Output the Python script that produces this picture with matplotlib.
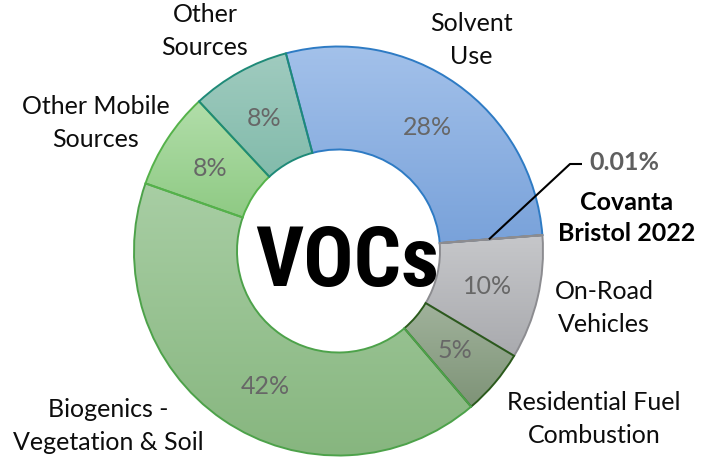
import numpy as np
import matplotlib
matplotlib.use("Agg")
import matplotlib.pyplot as plt
from matplotlib import font_manager as fm
from matplotlib.colors import LinearSegmentedColormap

# ---- data ----
categories = ["Solvent\nUse", "Covanta\nBristol 2022", "On-Road\nVehicles",
              "Residential Fuel\nCombustion", "Biogenics -\nVegetation & Soil",
              "Other Mobile\nSources", "Other\nSources"]
values = [27.9, 0.01, 9.8, 5.2, 41.6, 7.7, 7.8]
pct_labels = ["28%", "0.01%", "10%", "5%", "42%", "8%", "8%"]

top_colors = ["#A3C1EA", "#C9CACD", "#C6C7CA", "#A0B29B", "#A8CEA4", "#B2DEAA", "#A0CBBF"]
bot_colors = ["#79A2DA", "#A9AAAE", "#A9AAAE", "#7E9377", "#87B67F", "#8FCA84", "#82BBAB"]
edge_colors = ["#2E7BC4", "#8C8C90", "#8C8C90", "#2B5A1C", "#4DA24A", "#55B24A", "#1F8A78"]

plt.rcParams['font.family'] = ['Lato', 'DejaVu Sans']


def narrow_font():
    names = {f.name for f in fm.fontManager.ttflist}
    for n in ["Liberation Sans Narrow", "Roboto Condensed", "Open Sans Condensed",
              "DejaVu Sans Condensed", "Noto Sans Condensed"]:
        if n in names:
            return dict(family=[n, "DejaVu Sans"])
    for f in fm.fontManager.ttflist:
        if "condensed" in str(f.stretch).lower() or "narrow" in f.name.lower():
            return dict(family=[f.name, "DejaVu Sans"], fontstretch=f.stretch)
    return dict(family=["DejaVu Sans"], fontstretch="condensed")


W, H = 709, 460
fig = plt.figure(figsize=(W / 100, H / 100), dpi=100)
ax = fig.add_axes([0, 0, 1, 1])

cx, cy = 338.5, H - 252
R, ring = 204.5, 103
start = 104.9

wedges, _ = ax.pie(values, radius=R, center=(cx, cy), startangle=start,
                   counterclock=False,
                   wedgeprops=dict(width=ring, linewidth=1.4))

for i, w in enumerate(wedges):
    w.set_edgecolor(edge_colors[i])
    w.set_facecolor("none")
    w.set_zorder(3)
    ext = w.get_path().get_extents()
    cmap = LinearSegmentedColormap.from_list("g%d" % i, [bot_colors[i], top_colors[i]])
    grad = np.linspace(0, 1, 256).reshape(-1, 1)
    im = ax.imshow(grad, cmap=cmap, origin="lower", aspect="auto",
                   extent=(ext.x0, ext.x1, ext.y0, ext.y1), zorder=2,
                   interpolation="bilinear")
    im.set_clip_path(w)

# percent labels at mid-angles
pct_color = "#676767"
rmid = R - ring / 2
for i, w in enumerate(wedges):
    if i == 1:
        continue
    ang = np.deg2rad((w.theta1 + w.theta2) / 2)
    r = rmid
    if i == 4:
        ang += np.deg2rad(6)
    ax.text(cx + r * np.cos(ang), cy + r * np.sin(ang), pct_labels[i],
            ha="center", va="center", fontsize=18, color=pct_color, zorder=5)

# category labels
lab_color = "#0D0D0D"
lab_pos = {0: (471, 40), 2: (604, 308), 3: (594, 419), 4: (108, 426),
           5: (96, 123), 6: (205, 31)}
for i, (x, y) in lab_pos.items():
    ax.text(x, H - y, categories[i], ha="center", va="center", fontsize=18,
            color=lab_color, linespacing=1.5, zorder=5)

# Covanta callout
w = wedges[1]
ang = np.deg2rad(w.theta1)
r0 = R - ring * 0.52
x0, y0 = cx + r0 * np.cos(ang), cy + r0 * np.sin(ang)
ax.plot([x0, 570, 582], [y0, H - 165, H - 165], color="black", lw=1.5,
        zorder=6, solid_capstyle="butt")
ax.text(624, H - 163, pct_labels[1], ha="center", va="center", fontsize=18,
        fontweight="bold", color="#5F5F5F", zorder=6)
ax.text(627, H - 218, categories[1], ha="center", va="center", fontsize=18,
        fontweight="bold", color="black", linespacing=1.45, zorder=6)

# center title
ax.text(347, H - 263.5, "VOCs", ha="center", va="center", fontsize=60,
        fontweight="bold", color="black", zorder=6, **narrow_font())

ax.set_xlim(0, W)
ax.set_ylim(0, H)
ax.set_aspect("equal")
ax.axis("off")
fig.savefig("out.png", dpi=100)
